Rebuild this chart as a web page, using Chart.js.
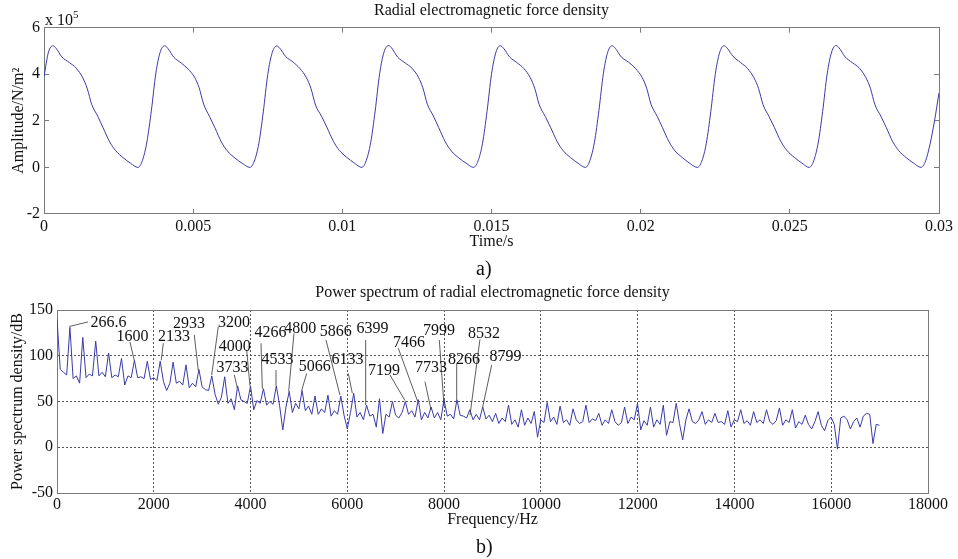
<!DOCTYPE html>
<html>
<head>
<meta charset="utf-8">
<script src="https://cdn.jsdelivr.net/npm/chart.js@4.4.1/dist/chart.umd.min.js"></script>
<style>
  html, body { margin: 0; padding: 0; background: #fff; }
  #wrap { position: relative; width: 958px; height: 559px; overflow: hidden; font-family: 'Liberation Serif', 'Times New Roman', serif; color: #111; }
  canvas { position: absolute; left: 0; top: 0; }
  .txt { position: absolute; white-space: nowrap; }
</style>
</head>
<body>
<div id="wrap">
  <canvas id="c1" width="958" height="559"></canvas>
  <canvas id="c2" width="958" height="559"></canvas>
  <div class="txt" style="left:45px;top:12px;font-size:16px;line-height:16px;">x 10<span style="font-size:11px;position:relative;top:-7px;">5</span></div>
  <div class="txt" style="left:476px;top:256px;font-size:20px;line-height:24px;">a)</div>
  <div class="txt" style="left:476px;top:534px;font-size:20px;line-height:24px;">b)</div>
</div>
<script>
// ---------- (a) time signal ----------
const topTitle = 'Radial electromagnetic force density';
const timeTicks = [0, 0.005, 0.01, 0.015, 0.02, 0.025, 0.03];
const timeTickLabels = ['0', '0.005', '0.01', '0.015', '0.02', '0.025', '0.03'];
const ampTicks = [-2, 0, 2, 4, 6];
const ampTickLabels = ['-2', '0', '2', '4', '6'];

const timeS = [
  0, 0.00015, 0.0003, 0.0004, 0.0006, 0.00085, 0.00108, 0.0013, 0.00145, 0.0016, 0.0018, 0.00198, 0.0022, 0.0024, 0.00265, 0.0029,
  0.00315, 0.0033, 0.00345, 0.0036, 0.00375, 0.0039, 0.00405, 0.00415, 0.00435, 0.0046, 0.00483, 0.00505, 0.0052, 0.00535, 0.00555, 0.00573, 0.00595, 0.00615, 0.0064, 0.00665,
  0.0069, 0.00705, 0.0072, 0.00735, 0.0075, 0.00765, 0.0078, 0.0079, 0.0081, 0.00835, 0.00858, 0.0088, 0.00895, 0.0091, 0.0093, 0.00948, 0.0097, 0.0099, 0.01015, 0.0104,
  0.01065, 0.0108, 0.01095, 0.0111, 0.01125, 0.0114, 0.01155, 0.01165, 0.01185, 0.0121, 0.01233, 0.01255, 0.0127, 0.01285, 0.01305, 0.01323, 0.01345, 0.01365, 0.0139, 0.01415,
  0.0144, 0.01455, 0.0147, 0.01485, 0.015, 0.01515, 0.0153, 0.0154, 0.0156, 0.01585, 0.01608, 0.0163, 0.01645, 0.0166, 0.0168, 0.01698, 0.0172, 0.0174, 0.01765, 0.0179,
  0.01815, 0.0183, 0.01845, 0.0186, 0.01875, 0.0189, 0.01905, 0.01915, 0.01935, 0.0196, 0.01983, 0.02005, 0.0202, 0.02035, 0.02055, 0.02073, 0.02095, 0.02115, 0.0214, 0.02165,
  0.0219, 0.02205, 0.0222, 0.02235, 0.0225, 0.02265, 0.0228, 0.0229, 0.0231, 0.02335, 0.02358, 0.0238, 0.02395, 0.0241, 0.0243, 0.02448, 0.0247, 0.0249, 0.02515, 0.0254,
  0.02565, 0.0258, 0.02595, 0.0261, 0.02625, 0.0264, 0.02655, 0.02665, 0.02685, 0.0271, 0.02733, 0.02755, 0.0277, 0.02785, 0.02805, 0.02823, 0.02845, 0.02865, 0.0289, 0.02915,
  0.0294, 0.02955, 0.0297, 0.02985, 0.03
];
// amplitude in units of 1e5 N/m^2
const amplitudeE5 = [
  3.9, 4.95, 5.22, 5.12, 4.74, 4.5, 4.26, 3.84, 3.38, 2.7, 2.2, 1.7, 1.1, 0.72, 0.42, 0.18,
  0, 0.3, 1.1, 2.45, 4.05, 4.97, 5.22, 5.11, 4.73, 4.48, 4.22, 3.86, 3.42, 2.72, 2.18, 1.7, 1.08, 0.7, 0.4, 0.17,
  0, 0.27, 1.02, 2.38, 3.98, 4.93, 5.21, 5.12, 4.76, 4.52, 4.24, 3.84, 3.38, 2.68, 2.2, 1.73, 1.12, 0.73, 0.43, 0.19,
  0, 0.29, 1.06, 2.42, 4.02, 4.96, 5.23, 5.13, 4.74, 4.49, 4.26, 3.87, 3.41, 2.71, 2.21, 1.71, 1.1, 0.71, 0.41, 0.18,
  0, 0.28, 1.04, 2.4, 4.0, 4.95, 5.22, 5.12, 4.75, 4.5, 4.25, 3.85, 3.39, 2.69, 2.19, 1.72, 1.11, 0.72, 0.42, 0.18,
  0, 0.3, 1.08, 2.44, 4.03, 4.96, 5.22, 5.11, 4.74, 4.51, 4.24, 3.86, 3.4, 2.7, 2.2, 1.71, 1.1, 0.71, 0.42, 0.17,
  0, 0.27, 1.03, 2.39, 3.99, 4.94, 5.22, 5.12, 4.76, 4.5, 4.25, 3.84, 3.39, 2.7, 2.19, 1.72, 1.11, 0.73, 0.43, 0.19,
  0, 0.28, 1.05, 2.4, 4.0, 4.95, 5.23, 5.13, 4.75, 4.49, 4.26, 3.85, 3.4, 2.7, 2.2, 1.72, 1.1, 0.72, 0.42, 0.18,
  0, 0.28, 1.0, 2.0, 3.2
];

// ---------- (b) power spectrum ----------
const bottomTitle = 'Power spectrum of radial electromagnetic force density';
const freqTicks = [0, 2000, 4000, 6000, 8000, 10000, 12000, 14000, 16000, 18000];
const freqTickLabels = ['0', '2000', '4000', '6000', '8000', '10000', '12000', '14000', '16000', '18000'];
const dbTicks = [-50, 0, 50, 100, 150];
const dbTickLabels = ['-50', '0', '50', '100', '150'];

const freqHz = [
  0, 67, 133, 200,  267, 333, 400, 467,  533, 600, 667, 733,  800, 866, 933, 1000,
  1066, 1133, 1200, 1266,  1333, 1400, 1466, 1533,  1600, 1666, 1733, 1800,  1866, 1933, 2000, 2066,
  2133, 2199, 2266, 2333,  2399, 2466, 2533, 2599,  2666, 2733, 2799, 2866,  2933, 2999, 3066, 3133,
  3199, 3266, 3333, 3399,  3466, 3532, 3599, 3666,  3732, 3799, 3866, 3932,  3999, 4066, 4132, 4199,
  4266, 4332, 4399, 4466,  4532, 4599, 4666, 4732,  4799, 4865, 4932, 4999,  5065, 5132, 5199, 5265,
  5332, 5399, 5465, 5532,  5599, 5665, 5732, 5799,  5865, 5932, 5999, 6065,  6132, 6198, 6265, 6332,
  6398, 6465, 6532, 6598,  6665, 6732, 6798, 6865,  6932, 6998, 7065, 7131,  7198, 7265, 7331, 7398,
  7465, 7531, 7598, 7665,  7731, 7798, 7865, 7931,  7998, 8065, 8131, 8198,  8265, 8331, 8398, 8465,
  8531, 8598, 8665, 8731,  8798, 8865, 8931, 8998,  9064, 9131, 9198, 9264,  9331, 9398, 9464, 9531,
  9598, 9664, 9731, 9798,  9864, 9931, 9998, 10064,  10131, 10198, 10264, 10331,  10397, 10464, 10531, 10597,
  10664, 10731, 10797, 10864,  10931, 10997, 11064, 11131,  11197, 11264, 11331, 11397,  11464, 11531, 11597, 11664,
  11730, 11797, 11864, 11930,  11997, 12064, 12130, 12197,  12264, 12330, 12397, 12464,  12530, 12597, 12664, 12730,
  12797, 12864, 12930, 12997,  13063, 13130, 13197, 13263,  13330, 13397, 13463, 13530,  13597, 13663, 13730, 13797,
  13863, 13930, 13997, 14063,  14130, 14197, 14263, 14330,  14396, 14463, 14530, 14596,  14663, 14730, 14796, 14863,
  14930, 14996, 15063, 15130,  15196, 15263, 15330, 15396,  15463, 15530, 15596, 15663,  15729, 15796, 15863, 15929,
  15996, 16063, 16129, 16196,  16263, 16329, 16396, 16463,  16529, 16596, 16663, 16729,  16796, 16863, 16929, 16996
];
const psdDb = [
  140, 85, 82, 79,  131, 75, 78, 70,  120, 76, 80, 78,  116, 78, 82, 77,
  103, 76, 79, 77,  97, 68, 78, 76,  95, 76, 77, 75,  94, 74, 76, 73,
  94, 72, 62, 70,  93, 70, 72, 68,  90, 65, 70, 66,  85, 66, 63, 62,
  78, 58, 47, 55,  77, 48, 53, 41,  67, 52, 50, 48,  67, 41, 51, 48,
  64, 46, 50, 47,  67, 46, 19, 44,  61, 38, 48, 42,  62, 40, 45, 36,
  56, 36, 42, 38,  57, 34, 40, 36,  56, 35, 20, 38,  59, 33, 38, 30,
  46, 34, 36, 22,  53, 15, 36, 33,  50, 35, 32, 38,  50, 36, 40, 33,
  52, 30, 38, 32,  44, 32, 38, 30,  52, 34, 36, 31,  52, 35, 34, 32,
  41, 30, 36, 30,  44, 31, 35, 28,  37, 26, 32, 28,  46, 25, 30, 22,
  41, 24, 32, 26,  39, 11, 30, 27,  49, 28, 33, 25,  45, 27, 30, 24,
  42, 30, 26, 28,  46, 27, 31, 29,  37, 24, 30, 26,  41, 28, 24, 27,
  44, 26, 33, 30,  48, 19, 29, 24,  44, 22, 30, 25,  46, 13, 28, 27,
  48, 26, 8, 30,  42, 28, 26, 30,  39, 25, 30, 27,  37, 27, 28, 25,
  40, 22, 30, 28,  41, 26, 29, 24,  39, 27, 30, 26,  41, 28, 25, 29,
  43, 24, 30, 27,  41, 21, 28, 25,  35, 25, 20, 28,  39, 24, 18, 29,
  33, 25, -2, 32,  34, 30, 20, 28,  32, 22, 34, 37,  36, 4, 25, 24
];

// peak labels: text, text centre (Hz, dB), leader from (Hz, dB) to (Hz, dB)
const peakLabels = [
  ['266.6', 1064, 136.1, 640, 137, 255, 132],
  ['1600', 1560, 120.8, 1508, 115, 1597, 95],
  ['2133', 2418, 120.8, 2197, 113.6, 2155, 95],
  ['2933', 2728, 134.7, 2837, 122.7, 2920, 84],
  ['3200', 3658, 136.1, 3333, 131.7, 3197, 79],
  ['4000', 3672, 109.9, 3920, 106.3, 3988, 67],
  ['3733', 3627, 86.6, 3664, 79, 3726, 65],
  ['4266', 4412, 125.2, 4216, 113.6, 4243, 64],
  ['4533', 4557, 96.1, 4526, 84.4, 4526, 67],
  ['4800', 5028, 130, 4898, 124.5, 4788, 61],
  ['5866', 5762, 126.3, 5559, 117.2, 5848, 57],
  ['5066', 5328, 87.4, 5160, 80.8, 5057, 62],
  ['6399', 6520, 130, 6379, 117.2, 6379, 46],
  ['6133', 6003, 96.1, 6020, 80.8, 6103, 59],
  ['7199', 6758, 83.7, 6882, 79, 7192, 51],
  ['7466', 7274, 114.3, 7054, 108.1, 7454, 50],
  ['7999', 7894, 127.4, 7901, 117.2, 7998, 45],
  ['7733', 7729, 86.3, 7605, 71.6, 7729, 41],
  ['8266', 8411, 96.1, 8260, 91.7, 8260, 52],
  ['8532', 8824, 124.5, 8741, 118, 8535, 35],
  ['8799', 9268, 99, 8983, 89.9, 8797, 44]
];

// ---------- styling ----------
const SERIF = "'Liberation Serif', 'Times New Roman', serif";
Chart.defaults.font.family = SERIF;
Chart.defaults.font.size = 16;
Chart.defaults.color = '#111';
const axisGray = '#7a7a7a';
const lineBlue = '#3a3aa8';

function setTicks(arr) { return s => { s.ticks = arr.map(v => ({ value: v })); }; }
function labelsFrom(arr) { return (v, i) => arr[i]; }
function fixBox(w, h) {
  return s => {
    if (w !== null) s.width = w;
    if (h !== null) s.height = h;
    s.paddingLeft = 0; s.paddingRight = 0; s.paddingTop = 0; s.paddingBottom = 0;
  };
}

// ---------- chart (a) ----------
new Chart(document.getElementById('c1'), {
  type: 'line',
  data: {
    datasets: [{
      data: timeS.map((t, i) => ({ x: t, y: amplitudeE5[i] })),
      borderColor: lineBlue, borderWidth: 1, pointRadius: 0, fill: false,
      cubicInterpolationMode: 'monotone'
    }]
  },
  options: {
    responsive: false, animation: false, events: [],
    layout: { padding: { left: 0, right: 19, top: 0, bottom: 308 } },
    plugins: {
      legend: { display: false }, tooltip: { enabled: false },
      title: { display: true, fullSize: false, text: topTitle, color: '#111', font: { size: 16, weight: 'normal' }, padding: { top: 1, bottom: 7.4 } }
    },
    scales: {
      x: {
        type: 'linear', position: 'bottom', min: 0, max: 0.03,
        afterBuildTicks: setTicks(timeTicks),
        ticks: { callback: labelsFrom(timeTickLabels), padding: 8, maxRotation: 0, autoSkip: false, color: '#111' },
        grid: { drawOnChartArea: false, tickLength: -5, color: axisGray },
        border: { color: axisGray },
        title: { display: true, text: 'Time/s', color: '#111', font: { size: 16 }, padding: 0 },
        afterFit: fixBox(null, 37)
      },
      x2: {
        type: 'linear', position: 'top', min: 0, max: 0.03,
        afterBuildTicks: setTicks(timeTicks),
        ticks: { display: false },
        grid: { drawOnChartArea: false, tickLength: -5, color: axisGray },
        border: { color: axisGray },
        afterFit: fixBox(null, 0)
      },
      y: {
        type: 'linear', position: 'left', min: -2, max: 6,
        afterBuildTicks: setTicks(ampTicks),
        ticks: { callback: labelsFrom(ampTickLabels), padding: 9, color: '#111' },
        grid: { drawOnChartArea: false, tickLength: -5, color: axisGray },
        border: { color: axisGray },
        title: { display: true, text: 'Amplitude/N/m²', color: '#111', font: { size: 16 }, padding: { top: 8.9, bottom: 0 } },
        afterFit: fixBox(44, null)
      },
      y2: {
        type: 'linear', position: 'right', min: -2, max: 6,
        afterBuildTicks: setTicks(ampTicks),
        ticks: { display: false },
        grid: { drawOnChartArea: false, tickLength: -5, color: axisGray },
        border: { color: axisGray },
        afterFit: fixBox(0, null)
      }
    }
  }
});

// ---------- chart (b) ----------
const peakLabelPlugin = {
  id: 'peakLabels',
  afterDatasetsDraw(chart) {
    const { ctx, scales: { x, y } } = chart;
    ctx.save();
    ctx.strokeStyle = '#333';
    ctx.lineWidth = 0.8;
    ctx.fillStyle = '#111';
    ctx.font = '16px ' + SERIF;
    ctx.textAlign = 'center';
    ctx.textBaseline = 'middle';
    peakLabels.forEach(([txt, tf, tdb, f1, d1, f2, d2]) => {
      ctx.beginPath();
      ctx.moveTo(x.getPixelForValue(f1), y.getPixelForValue(d1));
      ctx.lineTo(x.getPixelForValue(f2), y.getPixelForValue(d2));
      ctx.stroke();
      ctx.fillText(txt, x.getPixelForValue(tf), y.getPixelForValue(tdb));
    });
    ctx.restore();
  }
};

new Chart(document.getElementById('c2'), {
  type: 'line',
  data: {
    datasets: [{
      data: freqHz.map((f, i) => ({ x: f, y: psdDb[i] })),
      borderColor: lineBlue, borderWidth: 1, pointRadius: 0, fill: false, tension: 0
    }]
  },
  options: {
    responsive: false, animation: false, events: [],
    layout: { padding: { left: 0, right: 30, top: 283, bottom: 30 } },
    plugins: {
      legend: { display: false }, tooltip: { enabled: false },
      title: { display: true, fullSize: false, text: bottomTitle, color: '#111', font: { size: 16, weight: 'normal' }, padding: { top: 0, bottom: 7.8 } }
    },
    scales: {
      x: {
        type: 'linear', position: 'bottom', min: 0, max: 18000,
        afterBuildTicks: setTicks(freqTicks),
        ticks: { callback: labelsFrom(freqTickLabels), padding: 2, maxRotation: 0, autoSkip: false, color: '#111' },
        grid: { drawTicks: false, color: '#555' },
        border: { color: axisGray, dash: [2, 2] },
        title: { display: true, text: 'Frequency/Hz', color: '#111', font: { size: 16 }, padding: 0 },
        afterFit: fixBox(null, 36)
      },
      x2: {
        type: 'linear', position: 'top', min: 0, max: 18000,
        ticks: { display: false },
        grid: { display: false },
        border: { color: axisGray },
        afterFit: fixBox(null, 0)
      },
      y: {
        type: 'linear', position: 'left', min: -50, max: 150,
        afterBuildTicks: setTicks(dbTicks),
        ticks: { callback: labelsFrom(dbTickLabels), padding: 4, color: '#111' },
        grid: { drawTicks: false, color: '#555' },
        border: { color: axisGray, dash: [2, 2] },
        title: { display: true, text: 'Power spectrum density/dB', color: '#111', font: { size: 16 }, padding: { top: 8.4, bottom: 0 } },
        afterFit: fixBox(57, null)
      },
      y2: {
        type: 'linear', position: 'right', min: -50, max: 150,
        ticks: { display: false },
        grid: { display: false },
        border: { color: axisGray },
        afterFit: fixBox(0, null)
      }
    }
  },
  plugins: [peakLabelPlugin]
});
</script>
</body>
</html>
